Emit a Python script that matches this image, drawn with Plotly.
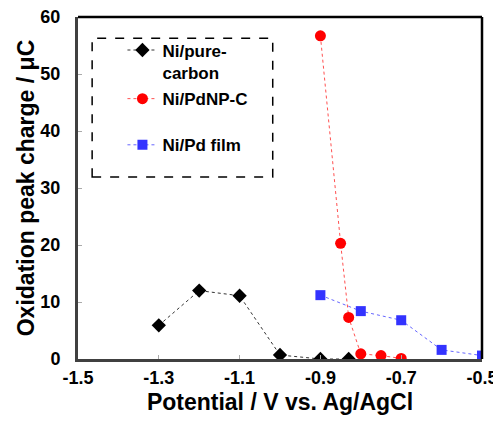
import plotly.graph_objects as go

# Data
x_carbon = [-1.3, -1.2, -1.1, -1.0, -0.9, -0.83]
y_carbon = [5.9, 12.0, 11.1, 0.7, 0.0, 0.0]

x_pdnp = [-0.9, -0.85, -0.83, -0.80, -0.75, -0.70]
y_pdnp = [56.7, 20.3, 7.3, 0.9, 0.6, 0.1]

x_film = [-0.9, -0.8, -0.7, -0.6, -0.5]
y_film = [11.2, 8.4, 6.8, 1.6, 0.6]

x_tickvals = [-1.5, -1.3, -1.1, -0.9, -0.7, -0.5]
x_ticktext = ["-1.5", "-1.3", "-1.1", "-0.9", "-0.7", "-0.5"]
y_tickvals = [0, 10, 20, 30, 40, 50, 60]

FONT = "Liberation Sans, Arial, sans-serif"

fig = go.Figure()
fig.add_trace(go.Scatter(
    x=x_carbon, y=y_carbon, mode="lines+markers", name="Ni/pure-<br>carbon",
    line=dict(color="#333333", width=1, dash="dot"),
    marker=dict(symbol="diamond", size=11, color="black"),
    showlegend=True, legend="legend"))
fig.add_trace(go.Scatter(
    x=x_pdnp, y=y_pdnp, mode="lines+markers", name="Ni/PdNP-C",
    line=dict(color="#ff5050", width=1, dash="dot"),
    marker=dict(symbol="circle", size=11, color="#ff0000"),
    showlegend=True, legend="legend2"))
fig.add_trace(go.Scatter(
    x=x_film, y=y_film, mode="lines+markers", name="Ni/Pd film",
    line=dict(color="#6666ff", width=1, dash="dot"),
    marker=dict(symbol="square", size=10, color="#3333ff"),
    showlegend=True, legend="legend3"))

leg_common = dict(font=dict(family=FONT, size=17, color="black", weight="bold"),
                  bgcolor="rgba(0,0,0,0)", borderwidth=0, xanchor="left",
                  yanchor="middle", valign="top", visible=True)

LX = 0.11

fig.update_layout(
    width=493, height=407,
    showlegend=True,
    margin=dict(l=70, r=19, t=9, b=56, autoexpand=False),
    paper_bgcolor="white", plot_bgcolor="white",
    font=dict(family=FONT, color="black"),
    legend=dict(x=LX, y=0.87, **leg_common),
    legend2=dict(x=LX, y=0.76, **leg_common),
    legend3=dict(x=LX, y=0.625, **leg_common),
    xaxis=dict(
        range=[-1.5, -0.5], tickvals=x_tickvals, ticktext=x_ticktext,
        ticks="inside", ticklen=4, tickcolor="#aaaaaa", tickwidth=1,
        showgrid=False, zeroline=False, automargin=False,
        ticklabeloverflow="allow",
        showline=True, linecolor="#404040", linewidth=3,
        tickfont=dict(family=FONT, size=18, color="black", weight="bold"),
        title=dict(text="Potential / V vs. Ag/AgCl", standoff=8,
                   font=dict(family=FONT, size=23, color="black", weight="bold")),
    ),
    yaxis=dict(
        range=[0, 60], tickvals=y_tickvals,
        ticks="inside", ticklen=4, tickcolor="#aaaaaa", tickwidth=1,
        showgrid=False, zeroline=False, automargin=False,
        ticklabeloverflow="allow",
        showline=True, linecolor="#404040", linewidth=3,
        ticklabelstandoff=11,
        tickfont=dict(family=FONT, size=18, color="black", weight="bold"),
        title=dict(text="Oxidation peak charge / μC", standoff=0,
                   font=dict(family=FONT, size=23, color="black", weight="bold")),
    ),
    shapes=[
        dict(type="line", xref="paper", yref="paper", x0=0, x1=1, y0=1, y1=1,
             line=dict(color="black", width=2.5)),
        dict(type="line", xref="paper", yref="paper", x0=1, x1=1, y0=0, y1=1,
             line=dict(color="black", width=2.5)),
        dict(type="rect", xref="paper", yref="paper", x0=0.035, x1=0.482,
             y0=0.532, y1=0.938, line=dict(color="black", width=1.5, dash="dash")),
    ],
)

fig.write_html("out.html")
